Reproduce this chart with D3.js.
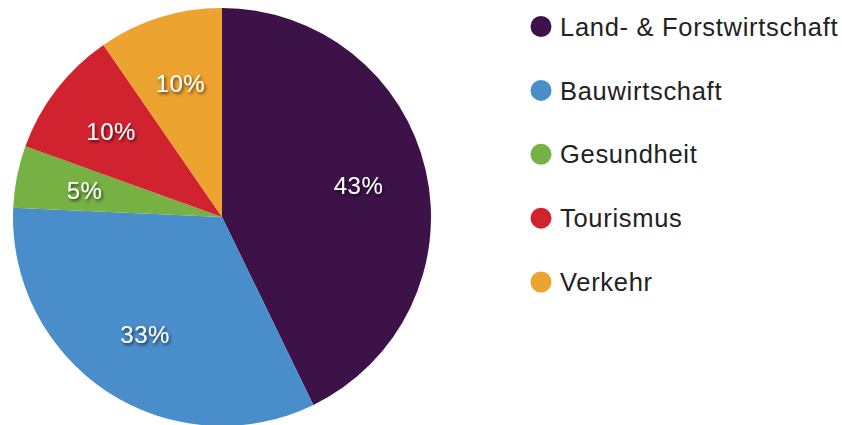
<!DOCTYPE html>
<html>
<head>
<meta charset="utf-8">
<script src="https://cdn.jsdelivr.net/npm/d3@7"></script>
<style>
  html, body { margin: 0; padding: 0; background: #fff; }
  svg { display: block; }
</style>
</head>
<body>
<svg width="842" height="425"></svg>
<script>
// data
var categories = ["Land- & Forstwirtschaft", "Bauwirtschaft", "Gesundheit", "Tourismus", "Verkehr"];
var shares = [42.8, 32.9, 4.8, 9.9, 9.6];
var labels = ["43%", "33%", "5%", "10%", "10%"];
var colors = ["#3d1249", "#498dcb", "#77b043", "#d1232f", "#eca32f"];

var svg = d3.select("svg");
var cx = 222, cy = 217, radius = 209;

var defs = svg.append("defs");
var shadow = defs.append("filter").attr("id", "shadow")
    .attr("x", "-20%").attr("y", "-20%").attr("width", "140%").attr("height", "140%");
shadow.append("feDropShadow")
    .attr("dx", 1.5).attr("dy", 2).attr("stdDeviation", 1.5)
    .attr("flood-color", "#000").attr("flood-opacity", 0.65);

var color = d3.scaleOrdinal().domain(categories).range(colors);

var pie = d3.pie().sort(null).value(function (d) { return d.value; });
var arc = d3.arc().innerRadius(0).outerRadius(radius);
var labelArc = d3.arc().innerRadius(radius * 0.67).outerRadius(radius * 0.67);

var rows = categories.map(function (c, i) { return { name: c, value: shares[i], label: labels[i] }; });

var g = svg.append("g").attr("transform", "translate(" + cx + "," + cy + ")");

g.selectAll("path.slice")
    .data(pie(rows))
    .join("path")
    .attr("class", "slice")
    .attr("d", arc)
    .attr("fill", function (d) { return color(d.data.name); });

g.selectAll("text.pct")
    .data(pie(rows))
    .join("text")
    .attr("class", "pct")
    .attr("transform", function (d) { return "translate(" + labelArc.centroid(d) + ")"; })
    .attr("text-anchor", "middle")
    .attr("dy", "0.36em")
    .attr("fill", "#fff")
    .attr("font-family", "'Liberation Sans', Arial, sans-serif")
    .attr("font-size", 24)
    .attr("letter-spacing", 0.5)
    .attr("filter", "url(#shadow)")
    .text(function (d) { return d.data.label; });

// legend
var legendY = d3.scalePoint().domain(categories).range([26.5, 282]);

var legend = svg.append("g").selectAll("g")
    .data(categories)
    .join("g")
    .attr("transform", function (d) { return "translate(541," + legendY(d) + ")"; });

legend.append("circle")
    .attr("r", 10.5)
    .attr("fill", function (d) { return color(d); });

legend.append("text")
    .attr("x", 19)
    .attr("dy", "0.36em")
    .attr("fill", "#222")
    .attr("font-family", "'Liberation Sans', Arial, sans-serif")
    .attr("font-size", 25.5)
    .attr("letter-spacing", 0.7)
    .text(function (d) { return d; });
</script>
</body>
</html>
